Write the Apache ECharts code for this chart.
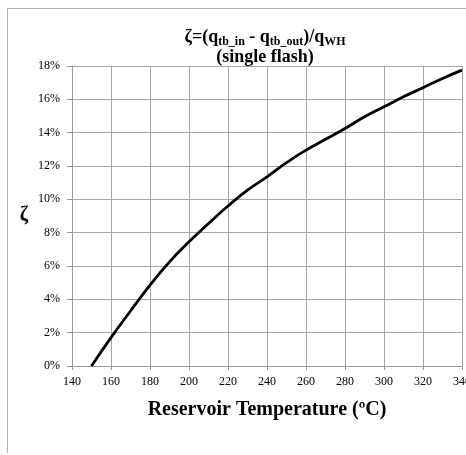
<!DOCTYPE html>
<html><head><meta charset="utf-8">
<script src="https://cdn.jsdelivr.net/npm/echarts@6/dist/echarts.min.js"></script>
<style>html,body{margin:0;padding:0;background:#fff;overflow:hidden}#c{width:466px;height:455px}</style>
</head><body><div id="c"></div>
<script>
const temperatures = [150,160,170,180,190,200,210,220,230,240,250,260,270,280,290,300,310,320,330,340];
const zetaPercent = [0,1.7,3.3,4.85,6.25,7.45,8.55,9.6,10.55,11.35,12.2,12.95,13.6,14.25,14.95,15.55,16.15,16.7,17.25,17.75];
const xTicks = {min:140, max:340, interval:20};
const yTicks = {min:0, max:18, interval:2};

const chart = echarts.init(document.getElementById('c'), null, {renderer:'canvas'});
const serif = '"Liberation Serif","Times New Roman",serif';
chart.setOption({
  animation:false,
  backgroundColor:'#fff',
  graphic:[{type:'polyline', shape:{points:[[7.5,453],[7.5,8.5],[470,8.5]]}, style:{fill:'none', stroke:'#b0b0b0', lineWidth:1}, silent:true}],
  title:{
    text:'{m|ζ=(q}{s|tb_in}{m| - q}{s|tb_out}{m|)/q}{s|WH}\n{m|(single flash)}',
    left:260, top:22, textAlign:'center',
    textStyle:{
      rich:{
        m:{fontFamily:serif, fontWeight:'bold', fontSize:18, color:'#000', lineHeight:20},
        s:{fontFamily:serif, fontWeight:'bold', fontSize:12, color:'#000', lineHeight:20, padding:[10,0,0,0]}
      }
    }
  },
  grid:{left:72, top:66, width:390, height:300, containLabel:false, outerBoundsMode:'none'},
  xAxis:{
    type:'value', min:xTicks.min, max:xTicks.max, interval:xTicks.interval,
    name:'Reservoir Temperature (ºC)', nameLocation:'middle', nameGap:34,
    nameTextStyle:{fontFamily:serif, fontWeight:'bold', fontSize:20, color:'#000'},
    axisLine:{show:true, lineStyle:{color:'#999', width:1}},
    axisTick:{show:true, length:4, lineStyle:{color:'#999'}},
    axisLabel:{fontFamily:serif, fontSize:12, color:'#000', margin:10},
    splitLine:{show:true, lineStyle:{color:'#a6a6a6', width:1}}
  },
  yAxis:{
    type:'value', min:yTicks.min, max:yTicks.max, interval:yTicks.interval,
    name:'ζ', nameLocation:'middle', nameGap:44, nameRotate:0,
    nameTextStyle:{fontFamily:serif, fontWeight:'bold', fontSize:20, color:'#000'},
    axisLine:{show:true, lineStyle:{color:'#999', width:1}},
    axisTick:{show:true, length:5, lineStyle:{color:'#999'}},
    axisLabel:{fontFamily:serif, fontSize:12, color:'#000', margin:12, formatter:v=>v+'%'},
    splitLine:{show:true, lineStyle:{color:'#a6a6a6', width:1}}
  },
  series:[{
    type:'line', data:temperatures.map((t,i)=>[t,zetaPercent[i]]),
    smooth:true, showSymbol:false, symbol:'none',
    lineStyle:{color:'#000', width:2.8}
  }]
});
</script></body></html>
